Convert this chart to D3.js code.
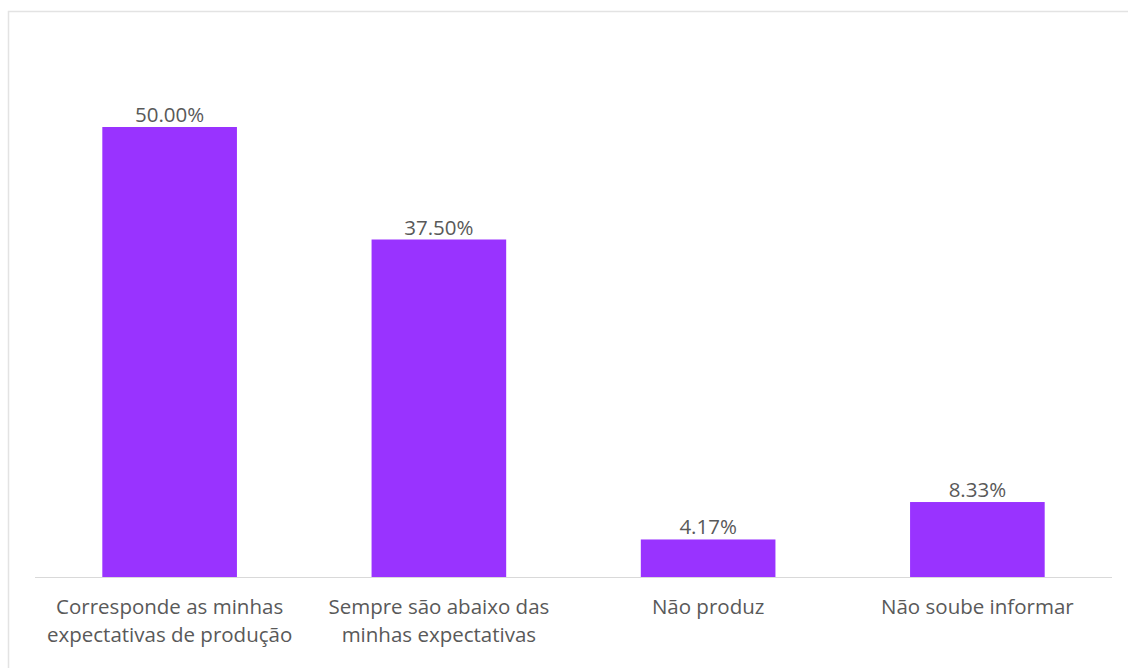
<!DOCTYPE html>
<html><head><meta charset="utf-8">
<script src="https://cdn.jsdelivr.net/npm/d3@7"></script>
<style>body{margin:0;background:#fff;}svg{display:block;}</style>
</head><body>
<script>
const categories = [
  ["Corresponde as minhas", "expectativas de produção"],
  ["Sempre são abaixo das", "minhas expectativas"],
  ["Não produz"],
  ["Não soube informar"]
];
const values = [50.00, 37.50, 4.17, 8.33];
const labels = ["50.00%", "37.50%", "4.17%", "8.33%"];

const W = 1128, H = 668;
const svg = d3.select("body").append("svg").attr("width", W).attr("height", H);
svg.append("rect").attr("x", 8.5).attr("y", 11.5).attr("width", W + 10).attr("height", H + 10)
  .attr("fill", "#fff").attr("stroke", "#e3e3e3").attr("stroke-width", 1.5);

const left = 35, right = 1112, baseY = 577;
const x = d3.scaleBand().domain(d3.range(values.length)).range([left, right]).paddingInner(0.5).paddingOuter(0.25);
const y = d3.scaleLinear().domain([0, 50]).range([baseY, 127]);

svg.selectAll("rect.bar").data(values).join("rect").attr("class", "bar")
  .attr("x", (d, i) => x(i)).attr("width", x.bandwidth())
  .attr("y", d => y(d)).attr("height", d => baseY - y(d)).attr("fill", "#9933ff");

svg.append("line").attr("x1", left).attr("x2", right).attr("y1", baseY + 0.5).attr("y2", baseY + 0.5)
  .attr("stroke", "#d9d9d9").attr("stroke-width", 1);

const font = "'Open Sans', sans-serif";
svg.selectAll("text.val").data(values).join("text").attr("class", "val")
  .attr("x", (d, i) => x(i) + x.bandwidth() / 2).attr("y", d => y(d) - 5)
  .attr("text-anchor", "middle").attr("font-family", font).attr("font-size", 20.5).attr("fill", "#595959")
  .text((d, i) => labels[i]);

const g = svg.selectAll("text.cat").data(categories).join("text").attr("class", "cat")
  .attr("text-anchor", "middle").attr("font-family", font).attr("font-size", 20.5).attr("fill", "#595959");
g.selectAll("tspan").data((d, i) => d.map(t => ({t, i}))).join("tspan")
  .attr("x", d => x(d.i) + x.bandwidth() / 2).attr("y", (d, j) => 614 + j * 28).text(d => d.t);
</script>
</body></html>
